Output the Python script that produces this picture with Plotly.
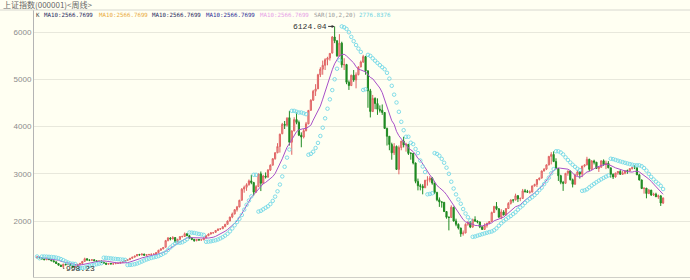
import plotly.graph_objects as go
import pandas as pd

# ---------------- data (weekly bars) ----------------
opens = [
    1220, 1236, 1222, 1195, 1180, 1210, 1180, 1158, 1135, 1100, 1065, 1038, 1085, 1075, 1085, 1055,
    1020, 1052, 1083, 1102, 1145, 1200, 1172, 1168, 1180, 1158, 1142, 1155, 1128, 1108, 1085, 1100,
    1090, 1094, 1102, 1108, 1125, 1140,
    1163, 1182, 1210, 1235, 1260, 1290, 1280, 1300, 1275, 1285, 1292, 1298, 1300, 1330, 1380, 1410,
    1445, 1585, 1640, 1620, 1650, 1560, 1610, 1670, 1672, 1730, 1690, 1640, 1612, 1585, 1610, 1600,
    1601, 1640, 1690, 1725, 1750, 1760, 1800, 1830, 1837, 1880, 1930, 2000, 2085, 2150, 2240, 2300,
    2440,
    2680, 2715, 2770, 2850, 2815, 2612, 2730, 3000, 2800, 2955, 2930, 3080, 3183, 3320, 3445, 3580,
    3850, 4050, 4030, 4190, 3670, 3910, 4150, 4090, 3820, 3780, 3915, 4060, 4345, 4560, 4750, 4800,
    5100, 5218, 5300, 5420, 5455, 5560, 5900, 5820, 5500, 5770, 5310, 5316, 4940, 4871, 5090, 4990,
    5100,
    5265, 5370, 5485, 5180, 4760, 4320, 4600, 4490, 4370, 4348, 4300, 3962, 3796, 3622, 3446, 3581,
    3094, 3557, 3693, 3613, 3626, 3433, 3433, 3230, 2840, 2748, 2736, 2704, 2865, 2870, 2910, 2805,
    2605, 2450, 2405, 2397, 2202, 2080, 2075, 2293, 2000, 1930, 1850, 1729, 1747, 1930, 1970, 1871,
    2030, 2001, 1980, 1877,
    1821, 1904, 1954, 1990, 2180, 2310, 2261, 2082, 2193, 2128, 2265, 2374, 2445, 2444, 2537, 2474,
    2477, 2640, 2627, 2610, 2613, 2745, 2775, 2880, 2910, 3060, 3100, 3190, 3370, 3412, 3260, 3110,
    2960, 2820, 2800, 3010, 3060, 2876, 2779, 2977, 3040, 2996, 3165, 3190, 3308, 3096, 3273, 3247,
    3113, 3141,
    3277, 3196, 3224, 3128, 2990, 2935, 3018, 3051, 2990, 3013, 3068, 3060, 3113, 3131, 3130, 2979,
    2870, 2688, 2697, 2583, 2655, 2553, 2570, 2514, 2535, 2382,
]
highs = [
    1245, 1248, 1230, 1210, 1225, 1215, 1188, 1165, 1140, 1110, 1075, 1095, 1100, 1095, 1090, 1060,
    1060, 1090, 1110, 1150, 1223, 1210, 1185, 1190, 1185, 1165, 1160, 1158, 1135, 1115, 1105, 1108,
    1100, 1110, 1115, 1130, 1145, 1165,
    1185, 1215, 1240, 1262, 1300, 1305, 1310, 1305, 1290, 1300, 1305, 1310, 1340, 1390, 1420, 1445,
    1600, 1660, 1660, 1680, 1660, 1625, 1680, 1690, 1757, 1745, 1700, 1650, 1620, 1620, 1615, 1610,
    1650, 1700, 1735, 1760, 1760, 1810, 1840, 1845, 1890, 1940, 2010, 2090, 2180, 2250, 2320, 2450,
    2698,
    2750, 2800, 2880, 2980, 2830, 2760, 3000, 3050, 2980, 3030, 3100, 3200, 3330, 3460, 3650, 3850,
    4080, 4120, 4200, 4335, 3920, 4200, 4300, 4130, 3880, 3950, 4100, 4350, 4580, 4780, 4900, 5120,
    5260, 5400, 5450, 5480, 5560, 5920, 6124.04, 5830, 5960, 5800, 5450, 5330, 4980, 5100, 5200, 5150,
    5280,
    5400, 5522, 5500, 5200, 4800, 4672, 4620, 4600, 4450, 4470, 4310, 3980, 3800, 3660, 3650, 3600,
    3600, 3700, 3786, 3660, 3630, 3460, 3440, 3240, 2900, 2790, 2780, 2870, 2950, 2952, 2930, 2810,
    2620, 2500, 2420, 2400, 2210, 2100, 2333, 2300, 2050, 1950, 1860, 1800, 1950, 2000, 2000, 2050,
    2100, 2010, 1990, 1890,
    1950, 1960, 2000, 2200, 2320, 2402, 2270, 2250, 2230, 2270, 2400, 2460, 2460, 2580, 2550, 2500,
    2680, 2680, 2660, 2650, 2750, 2790, 2890, 2920, 3070, 3120, 3200, 3380, 3460, 3478, 3330, 3120,
    2980, 2850, 3020, 3068, 3070, 2900, 3000, 3080, 3060, 3170, 3200, 3361, 3320, 3290, 3300, 3250,
    3150, 3280,
    3306, 3280, 3270, 3130, 3010, 3020, 3060, 3080, 3060, 3070, 3090, 3120, 3148, 3181, 3140, 3000,
    2880, 2710, 2700, 2680, 2660, 2600, 2600, 2560, 2540, 2495,
]
lows = [
    1212, 1215, 1190, 1170, 1172, 1175, 1150, 1130, 1095, 1060, 1030, 998.23, 1060, 1065, 1050, 1004,
    1015, 1045, 1075, 1098, 1140, 1165, 1150, 1160, 1150, 1135, 1138, 1120, 1100, 1067, 1080, 1085,
    1074, 1090, 1095, 1105, 1118, 1135,
    1160, 1178, 1200, 1230, 1255, 1270, 1275, 1270, 1260, 1280, 1285, 1290, 1298, 1325, 1370, 1400,
    1440, 1570, 1590, 1610, 1540, 1550, 1605, 1650, 1665, 1680, 1630, 1595, 1560, 1570, 1580, 1585,
    1598, 1635, 1680, 1715, 1735, 1755, 1790, 1815, 1830, 1870, 1925, 1995, 2060, 2140, 2200, 2290,
    2435,
    2600, 2640, 2750, 2780, 2540, 2600, 2720, 2635, 2780, 2900, 2920, 3060, 3180, 3300, 3440, 3450,
    3840, 3950, 4000, 3600, 3404, 3900, 4050, 3800, 3563, 3750, 3900, 4050, 4340, 4550, 4650, 4800,
    5050, 5100, 5200, 5300, 5400, 5550, 5770, 5480, 5490, 5250, 5200, 4900, 4778, 4860, 4950, 4812,
    5090,
    5260, 5350, 5100, 4400, 4195, 4310, 4370, 4250, 4300, 4250, 3950, 3600, 3500, 3300, 3400, 3100,
    2990, 3500, 3560, 3470, 3400, 3300, 3200, 2800, 2650, 2650, 2566, 2700, 2750, 2820, 2770, 2570,
    2420, 2300, 2284, 2190, 2050, 1802, 2070, 1990, 1890, 1820, 1664.93, 1690, 1740, 1900, 1850, 1860,
    1980, 1950, 1850, 1814,
    1820, 1860, 1930, 1985, 2170, 2230, 2070, 2037, 2120, 2125, 2260, 2350, 2390, 2440, 2402, 2420,
    2475, 2600, 2600, 2580, 2610, 2730, 2720, 2860, 2900, 3050, 3080, 3180, 3200, 3250, 3100, 2850,
    2780, 2639, 2790, 2960, 2860, 2712, 2770, 2960, 2900, 2930, 3140, 3180, 3060, 3090, 3200, 3110,
    3040, 3130,
    3170, 3100, 3120, 2920, 2890, 2920, 2980, 2980, 2980, 2990, 3000, 3050, 3090, 3100, 2980, 2860,
    2680, 2580, 2481, 2570, 2530, 2530, 2510, 2470, 2319, 2360,
]
closes = [
    1238, 1222, 1195, 1181, 1212, 1180, 1158, 1135, 1100, 1065, 1038, 1085, 1075, 1085, 1055, 1020,
    1052, 1083, 1102, 1145, 1200, 1172, 1168, 1180, 1158, 1142, 1155, 1128, 1108, 1085, 1100, 1090,
    1094, 1102, 1108, 1125, 1140, 1161,
    1182, 1210, 1235, 1258, 1290, 1280, 1300, 1275, 1285, 1292, 1298, 1299, 1330, 1380, 1410, 1440,
    1585, 1640, 1620, 1650, 1560, 1610, 1670, 1672, 1730, 1690, 1640, 1612, 1585, 1610, 1600, 1601,
    1640, 1690, 1725, 1750, 1752, 1800, 1830, 1837, 1880, 1930, 2000, 2085, 2150, 2240, 2300, 2440,
    2675,
    2715, 2770, 2850, 2815, 2612, 2730, 2998, 2800, 2955, 2930, 3080, 3183, 3320, 3445, 3580, 3841,
    4050, 4030, 4180, 3670, 3910, 4150, 4090, 3820, 3780, 3915, 4060, 4345, 4560, 4750, 4800, 5100,
    5218, 5300, 5420, 5455, 5552, 5900, 5820, 5500, 5770, 5310, 5316, 4940, 4871, 5090, 4990, 5100,
    5262,
    5370, 5485, 5180, 4760, 4320, 4599, 4490, 4370, 4348, 4300, 3962, 3796, 3622, 3446, 3581, 3094,
    3557, 3693, 3613, 3626, 3433, 3433, 3230, 2840, 2748, 2736, 2704, 2865, 2870, 2910, 2805, 2605,
    2450, 2405, 2397, 2202, 2080, 2075, 2293, 2000, 1930, 1850, 1729, 1747, 1930, 1970, 1871, 2030,
    2001, 1980, 1877, 1821,
    1904, 1954, 1990, 2180, 2310, 2261, 2082, 2193, 2128, 2265, 2374, 2445, 2444, 2537, 2474, 2477,
    2640, 2627, 2610, 2613, 2745, 2775, 2880, 2910, 3060, 3100, 3190, 3370, 3412, 3260, 3110, 2960,
    2820, 2800, 3010, 3060, 2876, 2779, 2977, 3040, 2996, 3165, 3190, 3308, 3096, 3273, 3247, 3113,
    3141, 3277,
    3196, 3224, 3128, 2990, 2935, 3018, 3051, 2990, 3013, 3068, 3060, 3113, 3131, 3130, 2979, 2870,
    2688, 2697, 2583, 2655, 2553, 2570, 2514, 2535, 2382, 2490.7,
]

title_text = "上证指数(000001)<周线>"
legend_texts = ["K", "MA10:2566.7699", "MA10:2566.7699", "MA10:2566.7699",
                "MA10:2566.7699", "MA10:2566.7699", "SAR(10,2,20)", "2776.8376"]
y_ticks = [2000, 3000, 4000, 5000, 6000]
peak_label = "6124.04"
low_label = "998.23"

# ---------------- indicators ----------------
n = len(closes)
idx = list(range(n))
ma10 = pd.Series(closes).rolling(10, min_periods=1).mean()


def parabolic_sar(h, l, n0=10, step=0.02, mx=0.2):
    out = []
    up = False
    sar = max(h[:n0])
    ep = l[0]
    af = step
    for i in range(len(h)):
        if i > 0:
            sar = sar + af * (ep - sar)
            if up:
                sar = min(sar, l[i - 1], l[max(i - 2, 0)])
                if l[i] < sar:
                    up = False
                    sar = max(h[max(0, i - n0 + 1):i + 1])
                    ep = l[i]
                    af = step
                elif h[i] > ep:
                    ep = h[i]
                    af = min(af + step, mx)
            else:
                sar = max(sar, h[i - 1], h[max(i - 2, 0)])
                if h[i] > sar:
                    up = True
                    sar = min(l[max(0, i - n0 + 1):i + 1])
                    ep = h[i]
                    af = step
                elif l[i] < ep:
                    ep = l[i]
                    af = min(af + step, mx)
        out.append(sar)
    return out


sar = parabolic_sar(highs, lows)

# ---------------- layout geometry ----------------
W, H = 690, 280
L, R, T, B = 34, 0, 10, 3
PW, PH = W - L - R, H - T - B


def px(x):
    return (x - L) / PW


def py(y):
    return (H - B - y) / PH


fig = go.Figure()
fig.add_trace(go.Candlestick(
    x=idx, open=opens, high=highs, low=lows, close=closes,
    increasing=dict(line=dict(color="#e06464", width=1), fillcolor="#f2b4b0"),
    decreasing=dict(line=dict(color="#1f8a22", width=1), fillcolor="#1f8a22"),
    whiskerwidth=0, showlegend=False, hoverinfo="skip",
))
fig.add_trace(go.Scatter(x=idx, y=ma10, mode="lines",
                         line=dict(color="#a850c8", width=1), showlegend=False, hoverinfo="skip"))
fig.add_trace(go.Scatter(x=idx, y=sar, mode="markers",
                         marker=dict(symbol="circle-open", size=3.5, color="#74d8e6",
                                     line=dict(width=0.9, color="#74d8e6")),
                         showlegend=False, hoverinfo="skip"))

ann = []
ann.append(dict(xref="paper", yref="paper", x=px(1), y=py(5), text=title_text,
                showarrow=False, xanchor="left", yanchor="middle",
                font=dict(family="Noto Sans CJK SC", size=8, color="#666666")))
leg_x = [35, 43, 98, 151, 205, 259, 313, 358]
leg_c = ["#444444", "#1e1e5c", "#e9a93a", "#1e1e5c", "#2c2c96", "#e6a0e6", "#9a9a9a", "#6cd2de"]
for t, xx, cc in zip(legend_texts, leg_x, leg_c):
    ann.append(dict(xref="paper", yref="paper", x=px(xx), y=py(14.5), text=t,
                    showarrow=False, xanchor="left", yanchor="middle", borderpad=0,
                    font=dict(family="DejaVu Sans Mono", size=5.8, color=cc)))

ip = max(range(n), key=lambda i: highs[i])
il = min(range(n), key=lambda i: lows[i])
ann.append(dict(x=ip, y=highs[ip], xref="x", yref="y", text=peak_label, showarrow=True,
                ax=-25, ay=0, arrowhead=2, arrowsize=0.6, arrowwidth=1, arrowcolor="#333333",
                font=dict(family="Liberation Mono", size=8, color="#333333")))
ann.append(dict(x=il, y=lows[il], xref="x", yref="y", text=low_label, showarrow=True,
                ax=17, ay=0, arrowhead=0, arrowwidth=1, arrowcolor="#333333",
                font=dict(family="Liberation Mono", size=8, color="#333333")))

fig.update_layout(
    width=W, height=H, margin=dict(l=L, r=R, t=T, b=B),
    paper_bgcolor="#fffff2", plot_bgcolor="#fffff2",
    annotations=ann, showlegend=False,
    shapes=[dict(type="line", xref="paper", yref="paper", x0=px(0), x1=1, y0=1, y1=1,
                 line=dict(color="#d8d8d0", width=1))],
)
fig.update_xaxes(range=[-1.3, n - 1 + 11.3], showgrid=False, zeroline=False,
                 showticklabels=False, rangeslider=dict(visible=False),
                 showline=True, linecolor="#d0d0c8", linewidth=1)
fig.update_yaxes(range=[814, 6472], tickvals=y_ticks, ticktext=[str(v) for v in y_ticks],
                 showgrid=True, gridcolor="#e8e8dc", gridwidth=1, zeroline=False,
                 showline=True, linecolor="#b4b4b4", linewidth=1,
                 tickfont=dict(family="Liberation Sans", size=8, color="#8c8c8c"))

fig.write_html("out.html")
